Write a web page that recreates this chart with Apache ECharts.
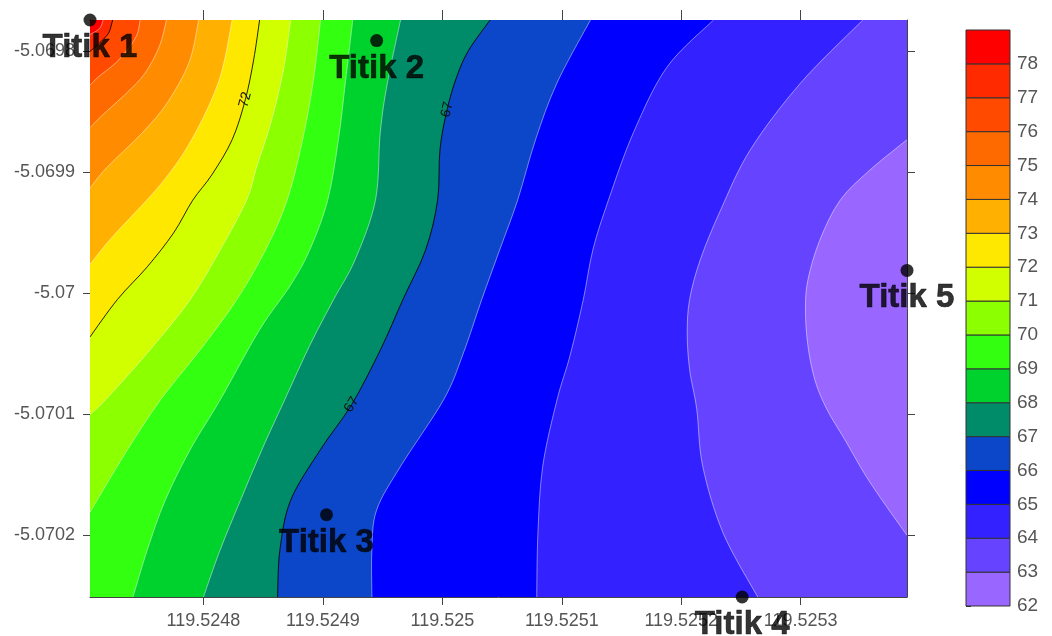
<!DOCTYPE html>
<html>
<head>
<meta charset="utf-8">
<script src="https://cdn.jsdelivr.net/npm/echarts@6/dist/echarts.min.js"></script>
<style>html,body{margin:0;padding:0;background:#fff}#main{width:1052px;height:636px}</style>
</head>
<body>
<div id="main"></div>
<script>
// ---- data ----
const titikNames = ['Titik 1', 'Titik 2', 'Titik 3', 'Titik 4', 'Titik 5'];
const titikLon = [119.524705, 119.524945, 119.524903, 119.525251, 119.525389];
const titikLat = [-5.069774, -5.069791, -5.070183, -5.070251, -5.069981];

const xTicks = [119.5248, 119.5249, 119.525, 119.5251, 119.5252, 119.5253];
const yTicks = [-5.0698, -5.0699, -5.07, -5.0701, -5.0702];

const levels = [62, 63, 64, 65, 66, 67, 68, 69, 70, 71, 72, 73, 74, 75, 76, 77, 78];
const bandColors = ['#9966ff', '#6644ff', '#3322ff', '#0000ff', '#0b47c8', '#008c69', '#00d22d', '#33ff11',
  '#8cff00', '#d2ff00', '#ffe800', '#ffb000', '#ff8c00', '#ff6a00', '#ff4a00', '#ff2a00', '#ff0000'];

// contour lines (lon, lat)
const contour63 = [[119.525389,-5.069873],[119.525358,-5.069898],[119.525333,-5.069923],[119.525316,-5.069956],[119.525306,-5.069989],[119.525304,-5.070014],[119.525306,-5.070043],[119.525312,-5.070072],[119.525322,-5.070096],[119.525337,-5.070121],[119.525354,-5.070150],[119.525371,-5.070175],[119.525389,-5.070200]];
const contour64 = [[119.525352,-5.069774],[119.525300,-5.069826],[119.525258,-5.069881],[119.525233,-5.069931],[119.525216,-5.069972],[119.525207,-5.070005],[119.525205,-5.070033],[119.525207,-5.070063],[119.525213,-5.070096],[119.525218,-5.070143],[119.525235,-5.070198],[119.525264,-5.070251]];
const contour65 = [[119.525227,-5.069774],[119.525188,-5.069813],[119.525160,-5.069867],[119.525139,-5.069923],[119.525126,-5.069964],[119.525118,-5.070005],[119.525107,-5.070051],[119.525096,-5.070088],[119.525084,-5.070143],[119.525080,-5.070198],[119.525079,-5.070251]];
const contour66 = [[119.525124,-5.069774],[119.525096,-5.069826],[119.525078,-5.069873],[119.525063,-5.069923],[119.525048,-5.069964],[119.525033,-5.070005],[119.525017,-5.070051],[119.525001,-5.070088],[119.524965,-5.070143],[119.524945,-5.070179],[119.524941,-5.070212],[119.524941,-5.070251]];
const contour67 = [[119.525040,-5.069774],[119.525022,-5.069799],[119.525012,-5.069821],[119.525004,-5.069848],[119.524998,-5.069881],[119.524996,-5.069923],[119.524986,-5.069964],[119.524967,-5.070005],[119.524948,-5.070047],[119.524924,-5.070092],[119.524898,-5.070129],[119.524873,-5.070171],[119.524864,-5.070212],[119.524862,-5.070251]];
const contour68 = [[119.524965,-5.069774],[119.524954,-5.069826],[119.524948,-5.069867],[119.524944,-5.069923],[119.524927,-5.069972],[119.524909,-5.070005],[119.524889,-5.070043],[119.524868,-5.070088],[119.524849,-5.070129],[119.524831,-5.070171],[119.524814,-5.070212],[119.524800,-5.070251]];
const contour69 = [[119.524925,-5.069774],[119.524919,-5.069824],[119.524913,-5.069873],[119.524904,-5.069923],[119.524889,-5.069964],[119.524873,-5.069993],[119.524847,-5.070030],[119.524814,-5.070088],[119.524789,-5.070129],[119.524768,-5.070171],[119.524753,-5.070212],[119.524741,-5.070251]];
const contour70 = [[119.524898,-5.069774],[119.524892,-5.069824],[119.524883,-5.069873],[119.524870,-5.069923],[119.524852,-5.069964],[119.524828,-5.070005],[119.524797,-5.070047],[119.524764,-5.070088],[119.524734,-5.070133],[119.524705,-5.070181]];
const contour71 = [[119.524873,-5.069774],[119.524867,-5.069815],[119.524857,-5.069857],[119.524845,-5.069894],[119.524836,-5.069923],[119.524814,-5.069964],[119.524789,-5.070005],[119.524755,-5.070047],[119.524718,-5.070088],[119.524705,-5.070100]];
const contour72 = [[119.524847,-5.069774],[119.524842,-5.069807],[119.524835,-5.069840],[119.524824,-5.069873],[119.524807,-5.069902],[119.524791,-5.069923],[119.524775,-5.069950],[119.524753,-5.069978],[119.524728,-5.070005],[119.524705,-5.070036]];
const contour73 = [[119.524824,-5.069774],[119.524813,-5.069824],[119.524790,-5.069873],[119.524764,-5.069910],[119.524724,-5.069953],[119.524705,-5.069976]];
const contour74 = [[119.524796,-5.069774],[119.524788,-5.069809],[119.524770,-5.069842],[119.524749,-5.069867],[119.524719,-5.069896],[119.524705,-5.069913]];
const contour75 = [[119.524769,-5.069774],[119.524763,-5.069796],[119.524751,-5.069818],[119.524736,-5.069834],[119.524715,-5.069853],[119.524705,-5.069863]];
const contour76 = [[119.524747,-5.069774],[119.524744,-5.069787],[119.524735,-5.069800],[119.524726,-5.069810],[119.524712,-5.069821],[119.524705,-5.069828]];
const contour77 = [[119.524724,-5.069774],[119.524721,-5.069784],[119.524717,-5.069789],[119.524712,-5.069794],[119.524705,-5.069800]];
const contour78 = [[119.524716,-5.069774],[119.524713,-5.069781],[119.524705,-5.069786]];

const contours = {63: contour63, 64: contour64, 65: contour65, 66: contour66, 67: contour67, 68: contour68,
  69: contour69, 70: contour70, 71: contour71, 72: contour72, 73: contour73, 74: contour74, 75: contour75,
  76: contour76, 77: contour77, 78: contour78};
const blackLevels = [67, 72, 77];
const contourLabels = [[72, 2], [67, 3], [67, 9]]; // [level, index of point on that line]

// ---- chart ----
const xMin = Math.min(...titikLon), xMax = Math.max(...titikLon);
const yMin = Math.min(...titikLat), yMax = Math.max(...titikLat);
const FONT = '"Liberation Sans", Arial, sans-serif';
const fmt = v => String(parseFloat(Number(v).toFixed(4)));

const fillOrder = [63, 62, 64, 65, 66, 67, 68, 69, 70, 71, 72, 73, 74, 75, 76, 77, 78];
const strokeOrder = [63, 64, 65, 66, 67, 68, 69, 70, 71, 72, 73, 74, 75, 76, 77, 78];

// smooth curve (Catmull-Rom as cubic Bezier) through already projected pixel points
function curvePath(P) {
  let d = 'M' + P[0][0] + ' ' + P[0][1];
  for (let i = 0; i < P.length - 1; i++) {
    const p0 = P[i - 1] || P[i], p1 = P[i], p2 = P[i + 1], p3 = P[i + 2] || P[i + 1];
    const c1x = p1[0] + (p2[0] - p0[0]) / 6, c1y = p1[1] + (p2[1] - p0[1]) / 6;
    const c2x = p2[0] - (p3[0] - p1[0]) / 6, c2y = p2[1] - (p3[1] - p1[1]) / 6;
    d += ' C' + c1x + ' ' + c1y + ' ' + c2x + ' ' + c2y + ' ' + p2[0] + ' ' + p2[1];
  }
  return d;
}

function fillItem(params, api) {
  const lvl = api.value(2);
  let d;
  if (lvl === 63) {
    const q = [[xMin, yMax], [xMax, yMax], [xMax, yMin], [xMin, yMin]].map(p => api.coord(p));
    d = 'M' + q.map(p => p[0] + ' ' + p[1]).join(' L') + ' Z';
  } else if (lvl === 62) {
    d = curvePath(contours[63].map(p => api.coord(p))) + ' Z';
  } else {
    const c = contours[lvl];
    const e1 = api.coord([xMin, c[c.length - 1][1]]), e2 = api.coord([xMin, c[0][1]]);
    d = curvePath(c.map(p => api.coord(p))) + ' L' + e1[0] + ' ' + e1[1] + ' L' + e2[0] + ' ' + e2[1] + ' Z';
  }
  return { type: 'path', shape: { pathData: d }, style: { fill: bandColors[lvl - 62], stroke: null } };
}

function strokeItem(params, api) {
  const lvl = api.value(2);
  const black = blackLevels.indexOf(lvl) >= 0;
  return {
    type: 'path',
    shape: { pathData: curvePath(contours[lvl].map(p => api.coord(p))) },
    style: { fill: null, stroke: black ? 'rgba(0,0,0,0.85)' : 'rgba(255,255,255,0.45)', lineWidth: 1 }
  };
}

function labelItem(params, api) {
  const lvl = api.value(2), k = api.value(3);
  const c = contours[lvl];
  const p = api.coord(c[k]);
  const a = api.coord(c[k - 1]), b = api.coord(c[k + 1]);
  let ang = Math.atan2(-(b[1] - a[1]), b[0] - a[0]);
  if (ang < -Math.PI / 2) ang += Math.PI;
  if (ang > Math.PI / 2) ang -= Math.PI;
  return {
    type: 'text', x: p[0], y: p[1], rotation: ang,
    style: { text: String(lvl), fontSize: 14, fontFamily: FONT, fill: '#111', align: 'center', verticalAlign: 'middle' }
  };
}

function barItem(params, api) {
  const l = api.value(1);
  const p1 = api.coord([0, l + 1]);
  const p2 = api.coord([1, l]);
  return {
    type: 'rect',
    shape: { x: p1[0], y: p1[1], width: p2[0] - p1[0], height: p2[1] - p1[1] },
    style: { fill: bandColors[l - 62], stroke: '#333', lineWidth: 1 }
  };
}

const axisLineStyle = { color: '#444', width: 1 };

const option = {
  animation: false,
  backgroundColor: '#fff',
  grid: [
    { left: 90, top: 20, width: 817, height: 577 },
    { left: 966, top: 30, width: 44, height: 576 }
  ],
  xAxis: [
    { type: 'value', gridIndex: 0, min: xMin, max: xMax, position: 'bottom',
      axisLine: { show: true, onZero: false, lineStyle: axisLineStyle },
      axisTick: { show: true, length: 8, customValues: xTicks, lineStyle: axisLineStyle },
      axisLabel: { customValues: xTicks, formatter: fmt, fontSize: 18, color: '#555', margin: 15, fontFamily: FONT },
      splitLine: { show: false } },
    { type: 'value', gridIndex: 0, min: xMin, max: xMax, position: 'top',
      axisLine: { show: true, onZero: false, lineStyle: axisLineStyle },
      axisTick: { show: true, length: 10, customValues: xTicks, lineStyle: axisLineStyle },
      axisLabel: { show: false }, splitLine: { show: false } },
    { type: 'value', gridIndex: 1, min: 0, max: 1, show: false }
  ],
  yAxis: [
    { type: 'value', gridIndex: 0, min: yMin, max: yMax, position: 'left',
      axisLine: { show: true, onZero: false, lineStyle: axisLineStyle },
      axisTick: { show: true, length: 7, customValues: yTicks, lineStyle: axisLineStyle },
      axisLabel: { customValues: yTicks, formatter: fmt, fontSize: 18, color: '#555', margin: 15, fontFamily: FONT },
      splitLine: { show: false } },
    { type: 'value', gridIndex: 0, min: yMin, max: yMax, position: 'right',
      axisLine: { show: true, onZero: false, lineStyle: axisLineStyle },
      axisTick: { show: true, length: 8, customValues: yTicks, lineStyle: axisLineStyle },
      axisLabel: { show: false }, splitLine: { show: false } },
    { type: 'value', gridIndex: 1, min: 62, max: 79, position: 'right',
      axisLine: { show: false },
      axisTick: { show: true, length: 5, customValues: levels, lineStyle: { color: '#333' } },
      axisLabel: { customValues: levels, fontSize: 19, color: '#555', margin: 7, fontFamily: FONT },
      splitLine: { show: false } }
  ],
  series: [
    { type: 'custom', xAxisIndex: 0, yAxisIndex: 0, clip: true, silent: true, z: 1,
      encode: { x: 0, y: 1 },
      data: fillOrder.map(l => [xMin, yMax, l]), renderItem: fillItem },
    { type: 'custom', xAxisIndex: 0, yAxisIndex: 0, clip: true, silent: true, z: 2,
      encode: { x: 0, y: 1 },
      data: strokeOrder.map(l => [xMin, yMax, l]), renderItem: strokeItem },
    { type: 'custom', xAxisIndex: 0, yAxisIndex: 0, clip: false, silent: true, z: 3,
      encode: { x: 0, y: 1 },
      data: contourLabels.map(([l, k]) => [contours[l][k][0], contours[l][k][1], l, k]), renderItem: labelItem },
    { type: 'custom', xAxisIndex: 2, yAxisIndex: 2, silent: true, z: 2,
      encode: { x: 0, y: 1 },
      data: levels.map(l => [0, l]), renderItem: barItem },
    { type: 'scatter', xAxisIndex: 0, yAxisIndex: 0, clip: false, z: 10,
      symbol: 'circle', symbolSize: 13,
      itemStyle: { color: '#000' },
      data: titikLon.map((x, i) => ({ value: [x, titikLat[i]], name: titikNames[i] })),
      label: { show: true, formatter: '{b}', position: 'bottom', distance: 5,
        fontSize: 33, fontWeight: 'bold', color: '#000', textBorderColor: '#000', textBorderWidth: 0.6,
        fontFamily: FONT } }
  ]
};

const chart = echarts.init(document.getElementById('main'), null, { renderer: 'canvas' });
chart.setOption(option);
</script>
</body>
</html>
